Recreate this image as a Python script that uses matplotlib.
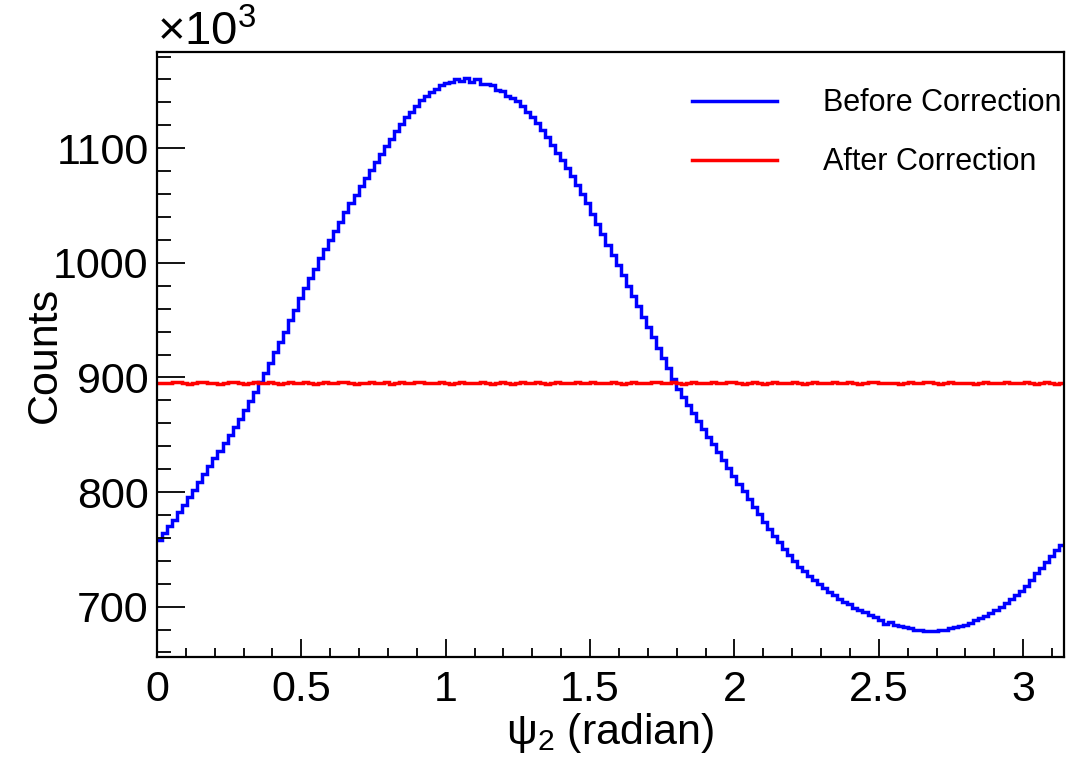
import numpy as np
import matplotlib
matplotlib.use("Agg")
import matplotlib.pyplot as plt
from matplotlib.ticker import MultipleLocator, FormatStrFormatter

plt.rcParams['font.family'] = ['Liberation Sans', 'DejaVu Sans']
plt.rcParams['mathtext.fontset'] = 'custom'
plt.rcParams['mathtext.rm'] = 'Liberation Sans'
plt.rcParams['mathtext.it'] = 'Liberation Sans'

# psi_2 distribution, 180 bins of 1 degree over [0, pi], counts in units of 10^3
n_bins = 180
before = [
    758, 764, 770, 776, 783, 789, 796, 802, 809, 816,
    823, 830, 836, 843, 850, 857, 864, 872, 879, 887,
    896, 904, 913, 922, 931, 940, 950, 959, 969, 978,
    987, 995, 1004, 1012, 1020, 1028, 1036, 1044, 1052, 1059,
    1067, 1074, 1081, 1088, 1095, 1102, 1108, 1115, 1121, 1127,
    1132, 1137, 1142, 1146, 1149, 1152, 1155, 1157, 1158, 1160,
    1159, 1161, 1158, 1160, 1156, 1156, 1155, 1151, 1150, 1146,
    1144, 1141, 1137, 1132, 1127, 1122, 1116, 1110, 1103, 1096,
    1090, 1083, 1076, 1068, 1060, 1052, 1043, 1034, 1025, 1016,
    1007, 998, 989, 980, 971, 962, 953, 944, 935, 926,
    917, 908, 899, 890, 883, 876, 869, 862, 855, 848,
    842, 835, 828, 821, 814, 807, 801, 794, 787, 781,
    774, 768, 762, 756, 750, 745, 740, 735, 731, 727,
    723, 720, 716, 713, 710, 707, 704, 702, 699, 697,
    695, 693, 691, 688, 685, 687, 684, 683, 682, 681,
    680, 680, 679, 679, 679, 680, 680, 681, 682, 683,
    684, 686, 688, 690, 692, 694, 697, 700, 703, 707,
    710, 714, 718, 723, 729, 734, 739, 744, 749, 754,
]
after = [
    895.5, 895.0, 894.8, 895.6, 896.0, 895.2, 894.6, 895.0, 895.8, 896.3,
    895.4, 894.9, 894.4, 895.1, 895.9, 896.2, 895.3, 894.7, 895.0, 895.6,
    894.8, 895.4, 896.1, 895.5, 894.6, 895.2, 895.8, 894.9, 895.3, 896.0,
    895.1, 894.5, 895.4, 895.9, 895.2, 894.8, 895.6, 896.1, 895.0, 894.7,
    895.5, 895.2, 895.9, 894.9, 895.3, 895.7, 894.6, 895.1, 895.8, 895.4,
    894.9, 895.6, 896.2, 895.3, 894.8, 895.1, 895.7, 895.0, 894.5, 895.4,
    895.9, 895.2, 894.9, 895.5, 896.0, 895.1, 894.7, 895.3, 895.8, 895.0,
    894.6, 895.4, 895.9, 895.3, 894.9, 895.6, 895.1, 894.7, 895.5, 896.1,
    895.2, 894.8, 895.4, 895.7, 894.9, 895.3, 896.0, 895.4, 894.8, 895.2,
    895.7, 895.0, 894.6, 895.5, 895.9, 895.2, 894.9, 895.4, 896.2, 895.6,
    894.9, 895.1, 895.6, 895.0, 894.7, 895.4, 895.8, 895.3, 894.8, 895.2,
    895.9, 895.4, 894.9, 895.6, 896.0, 895.2, 894.7, 895.3, 895.7, 895.0,
    894.6, 895.5, 895.9, 895.1, 894.9, 895.4, 895.8, 895.2, 894.6, 895.3,
    896.0, 895.5, 894.9, 895.2, 895.6, 894.8, 895.3, 895.9, 895.4, 894.7,
    895.1, 895.7, 896.1, 895.3, 894.8, 895.5, 895.0, 894.6, 895.4, 895.8,
    895.2, 894.9, 895.6, 896.0, 895.1, 894.7, 895.3, 895.8, 895.4, 894.9,
    895.5, 895.0, 894.6, 895.3, 895.9, 895.2, 894.8, 895.5, 896.1, 895.4,
    894.9, 895.2, 895.7, 895.0, 894.6, 895.4, 895.8, 895.1, 894.7, 895.3,
]
labels = ['Before Correction', 'After Correction']

edges = np.linspace(0, np.pi, n_bins + 1)

fig = plt.figure(figsize=(10.71, 7.69), dpi=100)
ax = fig.add_axes([0.1466, 0.1456, 0.8469, 0.7868])

# no baseline: ROOT-style outline without drops to zero at the ends
ax.stairs(before, edges, baseline=None, color='#0000ff', lw=2.5, label=labels[0])
ax.stairs(after, edges, baseline=None, color='#ff0000', lw=2.5, label=labels[1])

ax.set_xlim(0, np.pi)
ax.set_ylim(656, 1184)

for s in ax.spines.values():
    s.set_linewidth(1.6)

ax.xaxis.set_major_locator(MultipleLocator(0.5))
ax.xaxis.set_minor_locator(MultipleLocator(0.1))
ax.xaxis.set_major_formatter(FormatStrFormatter('%g'))
ax.yaxis.set_major_locator(MultipleLocator(100))
ax.yaxis.set_minor_locator(MultipleLocator(20))
ax.tick_params(axis='both', which='both', direction='in', width=1.3,
               top=False, right=False, labelsize=31)
ax.tick_params(axis='x', which='major', length=13, pad=9)
ax.tick_params(axis='x', which='minor', length=6.5)
ax.tick_params(axis='y', which='major', length=20, pad=6)
ax.tick_params(axis='y', which='minor', length=10)

ax.set_xlabel(r'ψ$_{2}$ (radian)', fontsize=31)
ax.xaxis.set_label_coords(0.5, -0.09)
ax.set_ylabel('Counts', fontsize=31)
ax.yaxis.set_label_coords(-0.102, 0.5)

fig.text(157 / 1071, 1 - 45 / 769, r'×10$^{3}$', fontsize=34, va='baseline')

ax.legend(loc='upper left', bbox_to_anchor=(0.646, 0.885), bbox_transform=fig.transFigure,
          frameon=False, fontsize=22, handlelength=2.8, handletextpad=1.5,
          labelspacing=0.95, borderpad=0, borderaxespad=0)

fig.savefig('out.png', dpi=100)
